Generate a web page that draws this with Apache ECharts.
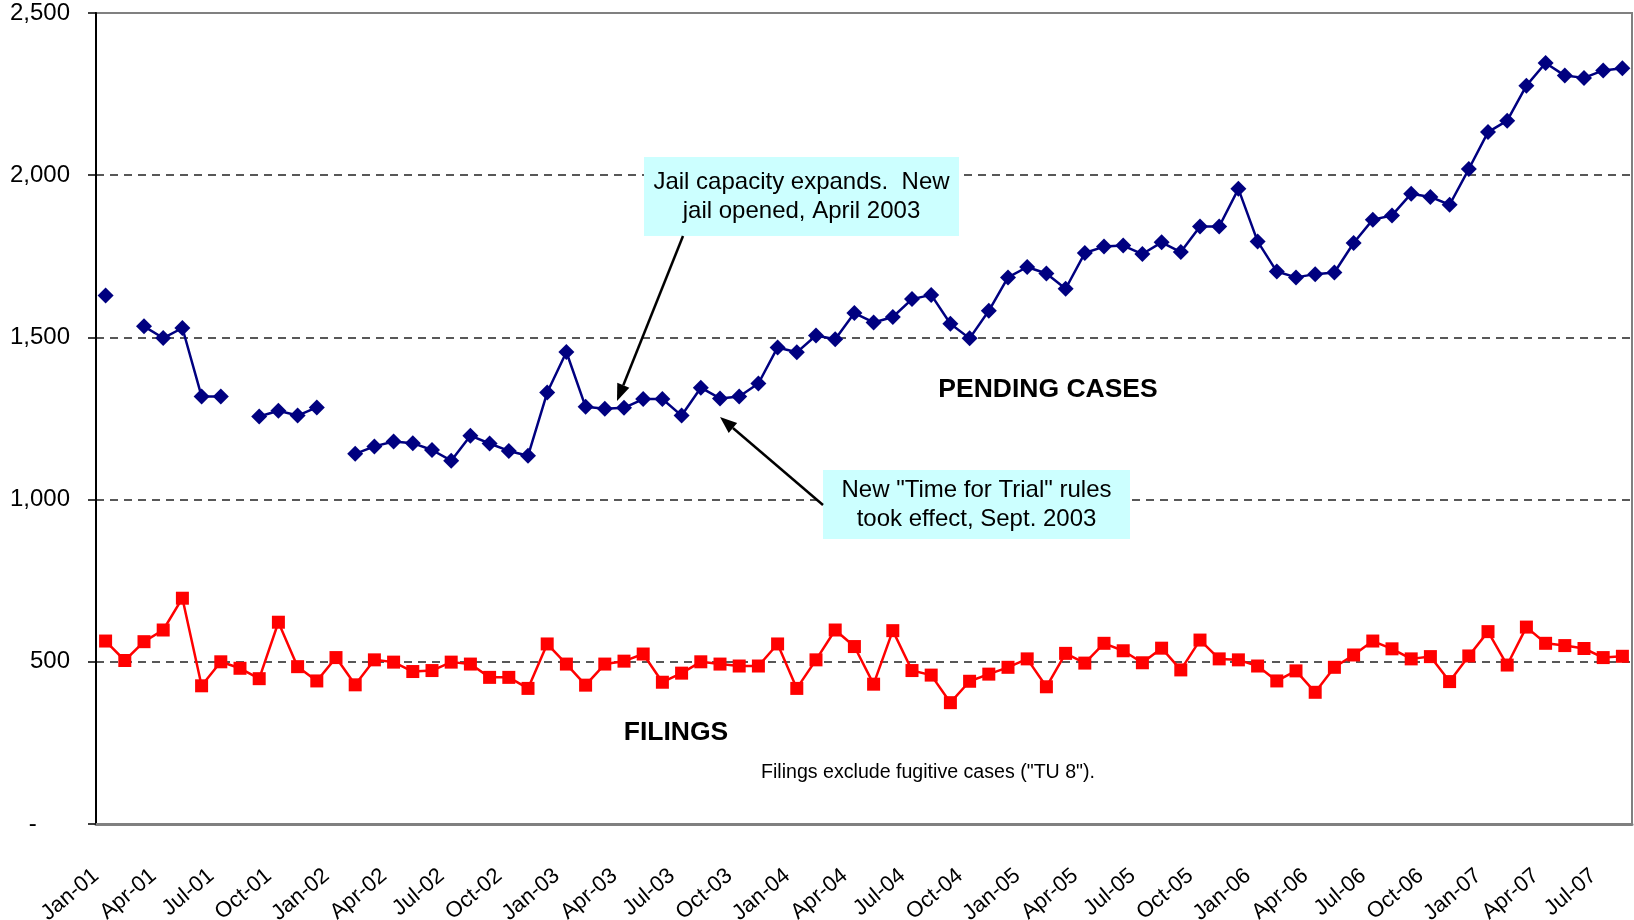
<!DOCTYPE html>
<html>
<head>
<meta charset="utf-8">
<script src="https://cdn.jsdelivr.net/npm/echarts@6/dist/echarts.min.js"></script>
<style>
  html, body { margin: 0; padding: 0; background: #fff; }
  #chart { width: 1634px; height: 920px; }
</style>
</head>
<body>
<div id="chart"></div>
<script>
// months Jan-01 .. Aug-07
var months = [
  'Jan-01','Feb-01','Mar-01','Apr-01','May-01','Jun-01','Jul-01','Aug-01','Sep-01','Oct-01','Nov-01','Dec-01',
  'Jan-02','Feb-02','Mar-02','Apr-02','May-02','Jun-02','Jul-02','Aug-02','Sep-02','Oct-02','Nov-02','Dec-02',
  'Jan-03','Feb-03','Mar-03','Apr-03','May-03','Jun-03','Jul-03','Aug-03','Sep-03','Oct-03','Nov-03','Dec-03',
  'Jan-04','Feb-04','Mar-04','Apr-04','May-04','Jun-04','Jul-04','Aug-04','Sep-04','Oct-04','Nov-04','Dec-04',
  'Jan-05','Feb-05','Mar-05','Apr-05','May-05','Jun-05','Jul-05','Aug-05','Sep-05','Oct-05','Nov-05','Dec-05',
  'Jan-06','Feb-06','Mar-06','Apr-06','May-06','Jun-06','Jul-06','Aug-06','Sep-06','Oct-06','Nov-06','Dec-06',
  'Jan-07','Feb-07','Mar-07','Apr-07','May-07','Jun-07','Jul-07','Aug-07'
];
// tick labels sit on the month boundaries, so one extra
var tickMonths = months.concat(['Sep-07']);

var pending = [
  1629, null, 1534, 1498, 1529, 1318, 1318, null, 1256, 1274, 1259, 1284,
  null, 1141, 1164, 1179, 1174, 1153, 1120, 1197, 1173, 1150, 1135, 1330,
  1455, 1286, 1280, 1283, 1310, 1310, 1259, 1345, 1312, 1318, 1358, 1469,
  1454, 1506, 1494, 1575, 1546, 1563, 1618, 1631, 1542, 1497, 1582, 1685,
  1717, 1697, 1650, 1760, 1780, 1783, 1757, 1793, 1763, 1842, 1842, 1958,
  1796, 1703, 1685, 1695, 1700, 1791, 1863, 1876, 1943, 1933, 1909, 2019,
  2133, 2168, 2276, 2346, 2307, 2300, 2323, 2330
];

var filings = [
  564, 504, 562, 598, 696, 426, 500, 480, 448, 622, 485, 441,
  513, 429, 506, 499, 470, 473, 499, 493, 452, 452, 418, 555,
  493, 428, 493, 502, 524, 437, 465, 500, 493, 487, 487, 555,
  418, 506, 598, 547, 431, 596, 473, 459, 374, 440, 462, 483,
  509, 423, 526, 496, 557, 534, 497, 542, 475, 567, 509, 506,
  487, 441, 472, 406, 483, 521, 564, 540, 509, 516, 439, 518,
  593, 490, 607, 557, 550, 541, 513, 517
];

var FONT = '"Liberation Sans", Arial, sans-serif';

function arrow(x1, y1, x2, y2) {
  var a = Math.atan2(y2 - y1, x2 - x1);
  var L = 17, W = 6.5;
  var bx = x2 - L * Math.cos(a), by = y2 - L * Math.sin(a);
  var px = -Math.sin(a) * W, py = Math.cos(a) * W;
  return [
    { type: 'line', shape: { x1: x1, y1: y1, x2: bx, y2: by }, style: { stroke: '#000', lineWidth: 2.5 }, z: 100 },
    { type: 'polygon', shape: { points: [[x2, y2], [bx + px, by + py], [bx - px, by - py]] }, style: { fill: '#000' }, z: 100 }
  ];
}

function noteBox(x, y, w, h, lines) {
  var items = [
    { type: 'rect', shape: { x: x, y: y, width: w, height: h }, style: { fill: '#ccffff' }, z: 90 }
  ];
  for (var i = 0; i < lines.length; i++) {
    items.push({
      type: 'text', z: 95,
      style: {
        text: lines[i], x: x + w / 2, y: y + h / 2 + (i - (lines.length - 1) / 2) * 29,
        align: 'center', verticalAlign: 'middle', font: '24px ' + FONT, fill: '#000'
      }
    });
  }
  return items;
}

var myChart = echarts.init(document.getElementById('chart'));

var graphics = []
  .concat(arrow(683, 236, 617, 401))
  .concat(arrow(823, 505, 720, 417))
  .concat(noteBox(644, 157, 315, 79, ['Jail capacity expands.  New', 'jail opened, April 2003']))
  .concat(noteBox(823, 470, 307, 69, ['New "Time for Trial" rules', 'took effect, Sept. 2003']))
  .concat([
    { type: 'text', z: 95, style: { text: 'PENDING CASES', x: 1048, y: 390, align: 'center', verticalAlign: 'middle', font: 'bold 26.5px ' + FONT, fill: '#000' } },
    { type: 'text', z: 95, style: { text: 'FILINGS', x: 676, y: 733, align: 'center', verticalAlign: 'middle', font: 'bold 26.5px ' + FONT, fill: '#000' } },
    { type: 'text', z: 95, style: { text: 'Filings exclude fugitive cases ("TU 8").', x: 928, y: 773, align: 'center', verticalAlign: 'middle', font: '19.6px ' + FONT, fill: '#000' } }
  ]);

var options = {
  backgroundColor: '#fff',
  animation: false,
  grid: {
    left: 96, right: 2, top: 13, bottom: 96,
    show: true, borderColor: '#808080', borderWidth: 2,
    outerBoundsMode: 'none'
  },
  xAxis: [
    {
      type: 'category',
      data: months,
      boundaryGap: true,
      axisLine: { lineStyle: { color: '#808080', width: 3 } },
      axisTick: { interval: 2, length: 8, lineStyle: { color: '#000', width: 1.5 } },
      axisLabel: { show: false },
      splitLine: { show: false }
    },
    {
      type: 'category',
      data: tickMonths,
      boundaryGap: false,
      position: 'bottom',
      axisLine: { show: false },
      axisTick: { show: false },
      axisLabel: { interval: 2, rotate: 40, margin: 49, fontSize: 22, fontFamily: FONT, color: '#000' },
      splitLine: { show: false }
    }
  ],
  yAxis: {
    type: 'value',
    min: 0, max: 2500, interval: 500,
    axisLine: { show: true, lineStyle: { color: '#000', width: 2 } },
    axisTick: { show: true, length: 8, lineStyle: { color: '#000', width: 1.5 } },
    axisLabel: {
      margin: 26, fontSize: 24, fontFamily: FONT, color: '#000',
      formatter: function(v) {
        if (v === 0) { return '-     '; }
        return v.toLocaleString('en-US');
      }
    },
    splitLine: { show: true, showMaxLine: false, lineStyle: { color: '#222', width: 1.5, type: [8, 6] } }
  },
  series: [
    {
      name: 'Pending cases',
      type: 'line',
      data: pending,
      connectNulls: false,
      symbol: 'diamond',
      symbolSize: 16,
      showAllSymbol: true,
      lineStyle: { color: '#000080', width: 2.5 },
      itemStyle: { color: '#000080' },
      z: 3
    },
    {
      name: 'Filings',
      type: 'line',
      data: filings,
      symbol: 'rect',
      symbolSize: 13,
      showAllSymbol: true,
      lineStyle: { color: '#ff0000', width: 2.5 },
      itemStyle: { color: '#ff0000' },
      z: 3
    }
  ],
  graphic: graphics
};

myChart.setOption(options);
</script>
</body>
</html>
